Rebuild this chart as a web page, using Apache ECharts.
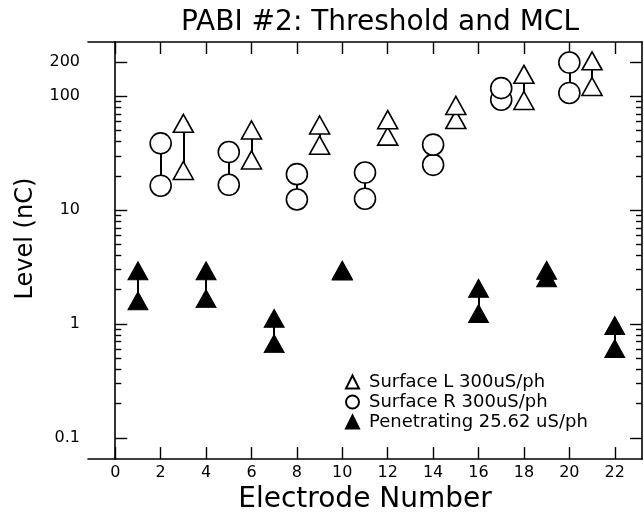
<!DOCTYPE html>
<html><head><meta charset="utf-8">
<script src="https://cdn.jsdelivr.net/npm/echarts@6/dist/echarts.min.js"></script>
<style>html,body{margin:0;padding:0;background:#fff}#c{width:644px;height:519px}</style>
</head><body><div id="c"></div>
<script>
const chartTitle = 'PABI #2: Threshold and MCL';
const xName = 'Electrode Number';
const yName = 'Level (nC)';
const xTicks = [0, 2, 4, 6, 8, 10, 12, 14, 16, 18, 20, 22];
const yMajorTicks = [0.1, 1, 10, 100, 200];
const yMinorTicks = [0.2, 0.3, 0.4, 0.5, 0.6, 0.7, 0.8, 0.9,
                     2, 3, 4, 5, 6, 7, 8, 9,
                     20, 30, 40, 50, 60, 70, 80, 90];

const seriesNames = ['Surface L 300uS/ph', 'Surface R 300uS/ph', 'Penetrating 25.62 uS/ph'];

const surfLElectrodes = [3, 6, 9, 12, 15, 18, 21];
const surfLThreshold  = [22.3, 27.6, 37.2, 44.7, 62.5, 91.9, 122];
const surfLMCL        = [57.9, 50.6, 56.0, 62.3, 83.2, 156, 205];

const surfRElectrodes = [2, 5, 8, 11, 14, 17, 20];
const surfRThreshold  = [16.4, 16.7, 12.4, 12.6, 25.0, 93.4, 107];
const surfRMCL        = [38.6, 32.4, 20.7, 21.4, 37.6, 118, 198];

const penElectrodes = [1, 4, 7, 10, 16, 19, 22];
const penThreshold  = [1.60, 1.67, 0.672, 2.92, 1.235, 2.55, 0.608];
const penMCL        = [2.93, 2.93, 1.12, 2.97, 2.06, 2.96, 0.970];

const F = 'DejaVu Sans';
const Y_MIN = 0.065, Y_MAX = 300, X_MIN = -1.2, X_MAX = 23.2;

function points(el, a, b) {
  const out = [];
  el.forEach((x, i) => { out.push([x, a[i]]); out.push([x, b[i]]); });
  return out;
}
function connectors(el, a, b) {
  return el.map((x, i) => ({ coords: [[x, a[i]], [x, b[i]]] }));
}

const lineStyleAxis = { color: '#000', width: 1.6 };
const fmt = v => String(+(+v).toPrecision(6));

function yAxis(pos, major, labels) {
  return {
    type: 'log', logBase: 10, min: Y_MIN, max: Y_MAX, position: pos,
    splitLine: { show: false },
    axisLine: { show: major, lineStyle: lineStyleAxis },
    axisTick: { show: true, inside: true, length: major ? 12 : 6,
                customValues: major ? yMajorTicks : yMinorTicks,
                lineStyle: { color: '#000', width: 1.4 } },
    axisLabel: labels ? { show: true, customValues: yMajorTicks, formatter: fmt,
                          margin: 8, color: '#000', fontFamily: F, fontSize: 16 }
                      : { show: false },
    minorTick: { show: false }
  };
}
function xAxis(pos, labels) {
  return {
    type: 'value', min: X_MIN, max: X_MAX, position: pos,
    splitLine: { show: false },
    axisLine: { show: true, lineStyle: lineStyleAxis },
    axisTick: { show: true, inside: true, length: 12, customValues: xTicks,
                lineStyle: { color: '#000', width: 1.4 } },
    axisLabel: labels ? { show: true, customValues: xTicks, margin: 6, color: '#000',
                          fontFamily: F, fontSize: 16 } : { show: false }
  };
}

const xa0 = xAxis('bottom', true);
Object.assign(xa0, { name: xName, nameLocation: 'middle', nameGap: 26,
  nameTextStyle: { fontFamily: F, fontSize: 28, color: '#000' } });
const ya0 = yAxis('left', true, true);
Object.assign(ya0, { name: yName, nameLocation: 'middle', nameGap: 50,
  nameTextStyle: { fontFamily: F, fontSize: 24, color: '#000', padding: [0, 0, 0, 24] } });

const openStyle = { color: '#fff', borderColor: '#000', borderWidth: 1.6, opacity: 1 };

const chart = echarts.init(document.getElementById('c'), null, { renderer: 'canvas' });
chart.setOption({
  animation: false,
  backgroundColor: '#fff',
  title: { text: chartTitle, left: 181, top: 9, padding: 0,
           textStyle: { fontFamily: F, fontSize: 28, fontWeight: 'normal', color: '#000' } },
  grid: { left: 88, right: 2, top: 42, bottom: 57, containLabel: false },
  xAxis: [xa0, xAxis('top', false)],
  yAxis: [ya0, yAxis('left', false, false), yAxis('right', true, false), yAxis('right', false, false)],
  legend: {
    orient: 'vertical', left: 345, top: 372, padding: 0, itemWidth: 13, itemHeight: 13, itemGap: 0,
    data: seriesNames,
    textStyle: { fontFamily: F, fontSize: 18, color: '#000', lineHeight: 20, padding: [0, 0, 0, 5] }
  },
  series: [
    { type: 'lines', coordinateSystem: 'cartesian2d', silent: true, z: 1,
      lineStyle: { color: '#000', width: 2, opacity: 1 },
      data: connectors(surfLElectrodes, surfLThreshold, surfLMCL)
            .concat(connectors(surfRElectrodes, surfRThreshold, surfRMCL))
            .concat(connectors(penElectrodes, penThreshold, penMCL)) },
    { name: seriesNames[0], type: 'scatter', symbol: 'triangle', symbolSize: [20, 18], z: 3,
      itemStyle: openStyle, data: points(surfLElectrodes, surfLThreshold, surfLMCL) },
    { name: seriesNames[1], type: 'scatter', symbol: 'circle', symbolSize: 21, z: 3,
      itemStyle: openStyle, data: points(surfRElectrodes, surfRThreshold, surfRMCL) },
    { name: seriesNames[2], type: 'scatter', symbol: 'triangle', symbolSize: [20, 18], z: 3,
      itemStyle: { color: '#000', borderColor: '#000', borderWidth: 1, opacity: 1 },
      data: points(penElectrodes, penThreshold, penMCL) }
  ]
});
</script></body></html>
